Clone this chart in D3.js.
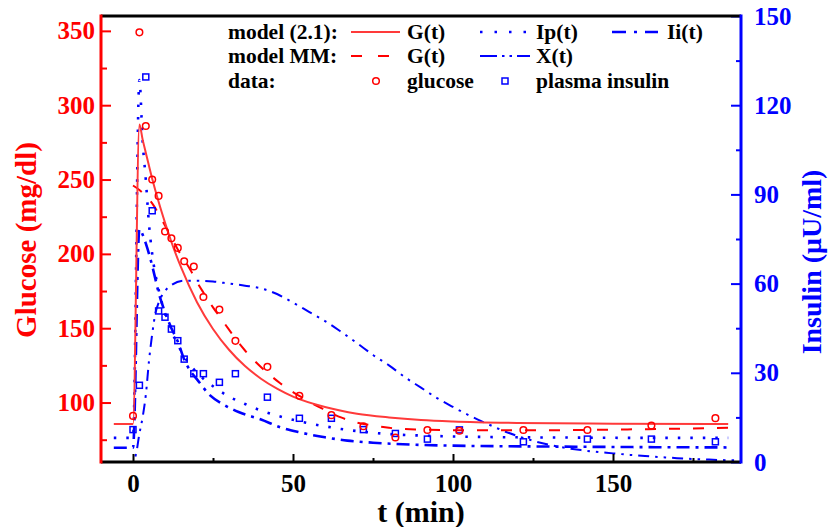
<!DOCTYPE html>
<html><head><meta charset="utf-8">
<script src="https://cdn.jsdelivr.net/npm/d3@7"></script>
<style>
body{margin:0;background:#fff}
svg text{font-family:"Liberation Serif","Times New Roman",serif;font-weight:bold}
</style>
</head><body>
<svg id="c" width="830" height="527"></svg>
<script>
// ---------- data ----------
const tData = [0,2,4,6,8,10,12,14,16,19,22,27,32,42,52,62,72,82,92,102,122,142,162,182];
const glucoseData = [91,349,286,250,239,215,210.5,204,195,191.5,171,162.5,141.5,124,104.5,91.5,84,76.5,81.5,81,81.5,81.5,84.5,89.5];
const insulinData = [10.9,25.8,129.5,84.5,50.8,48.7,44.7,40.8,34.6,29.7,29.7,26.8,29.7,21.8,14.7,14.7,10.9,9.6,7.7,10.8,6.8,7.7,7.7,6.8];

// model (2.1) G(t)
const tG21 = [-6,0,2,3,4,6,8,10,12,15,20,25,30,35,40,45,50,60,70,80,90,100,120,150,186];
const vG21 = [85.5,85.5,287,277,268,250.5,235,221,208,191,167.5,149.5,135.5,124.5,116,109.3,104,97,92.5,90,88.3,87.3,86.3,85.8,85.5];
// model MM G(t)
const tGMM = [0,2,4,6,8,10,12,14,16,18,20,22,25,28,30,32,35,38,42,46,50,52,55,60,65,70,75,80,90,100,120,150,186];
const vGMM = [246,243,239,234,227,219,211,203,196,189,181,174,164,155,149,143,135,128,120,113,107,104.5,100.5,95,90,86.5,84.5,83,81.8,81.4,81.3,81.8,83];
// model (2.1) Ip(t)
const tIp = [-6,0,2,3,4,5,6,8,10,12,14,16,18,20,25,30,35,40,45,50,55,60,65,70,80,90,100,120,140,160,186];
const vIp = [8.1,8.1,128.5,108,95,80,70,58,50,44,39.5,35.5,32.5,30,25.5,22,19.5,17.3,15.6,14.2,13,12,11.1,10.4,9.4,8.9,8.6,8.3,8.2,8.1,8.1];
// model (2.1) Ii(t)
const tIi = [-6,0,2,3,4,5,6,7,8,9,10,12,14,16,18,20,24,28,33,40,46,52,60,67,75,88,100,130,160,186];
const vIi = [4.8,4.8,78.3,76.5,73.5,70,66,61.5,57,53.5,50.3,45,40.5,34.5,30.5,27.8,22.5,19.5,16.8,14.3,11.7,10,8.3,7.2,6.5,5.8,5.5,5.2,5,4.9];
// model MM X(t)
const tX = [-6,0,1,2,3,4,5,6,7,8,10,12,16,20,25,30,35,40,45,50,55,60,65,70,75,80,85,90,95,100,105,110,115,120,130,140,150,160,170,180,190];
const vX = [0,0,3,9.5,15,22.5,34,43,50,53.5,57.5,59.5,61,61,60.7,60,59.3,58.4,56.5,53.6,50.5,47.4,43.8,40,36,32.5,28.5,25,21.5,18.5,15.7,13.2,10.8,8.8,5.8,4,2.9,2,1.3,0.8,0.5];

const ticksT = [0,50,100,150], minorT = [25,75,125,175];
const ticksG = [100,150,200,250,300,350], minorG = [75,125,175,225,275,325];
const ticksI = [0,30,60,90,120,150], minorI = [15,45,75,105,135];

// ---------- drawing ----------
const RED = "#ff0000", BLUE = "#0000ff";
const svg = d3.select("#c");
const L = 101, R = 741, T = 16, B = 462;
const x = d3.scaleLinear().domain([-10,190]).range([L,R]);
const yG = d3.scaleLinear().domain([60,360]).range([B,T]);
const yI = d3.scaleLinear().domain([0,150]).range([B,T]);

svg.append("defs").append("clipPath").attr("id","clip")
  .append("rect").attr("x",L).attr("y",T).attr("width",R-L).attr("height",B-T);

const plot = svg.append("g").attr("clip-path","url(#clip)");
const zip = (ts, vs) => ts.map((t,i)=>[t,vs[i]]);
function drawLine(ts, vs, ys, color, w, dash){
  const line = d3.line().x(d=>x(d[0])).y(d=>ys(d[1])).curve(d3.curveMonotoneX);
  plot.append("path").datum(zip(ts,vs)).attr("d",line)
    .attr("fill","none").attr("stroke",color).attr("stroke-width",w)
    .attr("stroke-dasharray",dash||null).attr("stroke-linecap","butt");
}
const DASH_MM = "11,13", DOT = "2.5,10", DASHDOT = "13,6,3,6", DASHDOTDOT = "11,6,2.5,6,2.5,6";

drawLine(tX, vX, yI, BLUE, 2, DASHDOTDOT);
drawLine(tIi, vIi, yI, BLUE, 2.6, DASHDOT);
drawLine(tIp, vIp, yI, BLUE, 2.6, DOT);
drawLine(tGMM, vGMM, yG, RED, 2, DASH_MM);
drawLine(tG21, vG21, yG, "#ff3a3a", 2, null);

// data markers
plot.selectAll("rect.ins").data(zip(tData, insulinData)).enter().append("rect")
  .attr("x",d=>x(d[0])-3).attr("y",d=>yI(d[1])-3).attr("width",6).attr("height",6)
  .attr("fill","none").attr("stroke",BLUE).attr("stroke-width",1.5);
plot.selectAll("circle.glu").data(zip(tData, glucoseData)).enter().append("circle")
  .attr("cx",d=>x(d[0])).attr("cy",d=>yG(d[1])).attr("r",3.3)
  .attr("fill","none").attr("stroke",RED).attr("stroke-width",1.5);

// axes
const fs = "25px";
function styleAxis(g, color){
  g.select(".domain").remove();
  g.selectAll(".tick line").attr("stroke",color).attr("stroke-width",2);
  g.selectAll(".tick text").attr("fill",color).style("font-size",fs);
}
const gB = svg.append("g").attr("transform",`translate(0,${B})`)
  .call(d3.axisBottom(x).tickValues(ticksT).tickSize(-8).tickPadding(12).tickFormat(d3.format("d")));
styleAxis(gB,"#000");
const gBm = svg.append("g").attr("transform",`translate(0,${B})`)
  .call(d3.axisBottom(x).tickValues(minorT).tickSize(-4).tickFormat(""));
styleAxis(gBm,"#000");

const gL = svg.append("g").attr("transform",`translate(${L},0)`)
  .call(d3.axisLeft(yG).tickValues(ticksG).tickSize(-10).tickPadding(6).tickFormat(d3.format("d")));
styleAxis(gL,RED);
const gLm = svg.append("g").attr("transform",`translate(${L},0)`)
  .call(d3.axisLeft(yG).tickValues(minorG).tickSize(-6).tickFormat(""));
styleAxis(gLm,RED);

const gR = svg.append("g").attr("transform",`translate(${R},0)`)
  .call(d3.axisRight(yI).tickValues(ticksI).tickSize(-10).tickPadding(13).tickFormat(d3.format("d")));
styleAxis(gR,BLUE);
const gRm = svg.append("g").attr("transform",`translate(${R},0)`)
  .call(d3.axisRight(yI).tickValues(minorI).tickSize(-5).tickFormat(""));
styleAxis(gRm,BLUE);

// frame lines
svg.append("line").attr("x1",L).attr("x2",R).attr("y1",T).attr("y2",T).attr("stroke","#000").attr("stroke-width",3);
svg.append("line").attr("x1",L).attr("x2",R).attr("y1",B).attr("y2",B).attr("stroke","#000").attr("stroke-width",3);
svg.append("line").attr("x1",L).attr("x2",L).attr("y1",T-1.5).attr("y2",B+1.5).attr("stroke",RED).attr("stroke-width",3);
svg.append("line").attr("x1",R).attr("x2",R).attr("y1",T-1.5).attr("y2",B+1.5).attr("stroke",BLUE).attr("stroke-width",3);

// axis titles
svg.append("text").attr("transform","translate(36,240) rotate(-90)").attr("text-anchor","middle")
  .attr("fill",RED).style("font-size","29px").text("Glucose (mg/dl)");
svg.append("text").attr("transform","translate(821,262) rotate(-90)").attr("text-anchor","middle")
  .attr("fill",BLUE).style("font-size","28px").text("Insulin (μU/ml)");
svg.append("text").attr("x",421).attr("y",522).attr("text-anchor","middle")
  .attr("fill","#000").style("font-size","30px").text("t (min)");

// legend
const lg = svg.append("g").style("font-size","21.5px");
const rows = [39,63,88];
function ltext(xp, row, s){ lg.append("text").attr("x",xp).attr("y",rows[row]).attr("fill","#000").text(s); }
function lline(x1, x2, row, color, w, dash){
  lg.append("line").attr("x1",x1).attr("x2",x2).attr("y1",rows[row]-7).attr("y2",rows[row]-7)
    .attr("stroke",color).attr("stroke-width",w).attr("stroke-dasharray",dash||null);
}
ltext(228,0,"model (2.1):"); lline(351,400,0,"#ff3a3a",2,null); ltext(407,0,"G(t)");
lline(480,530,0,BLUE,2.6,"2.5,12"); ltext(536,0,"Ip(t)");
lline(612,658,0,BLUE,2.6,"14,8,3,8"); ltext(667,0,"Ii(t)");
ltext(228,1,"model MM:"); lline(351,390,1,RED,2,"11,16"); ltext(407,1,"G(t)");
lline(480,530,1,BLUE,2,"17,5,2.5,5,2.5,5"); ltext(536,1,"X(t)");
ltext(228,2,"data:");
lg.append("circle").attr("cx",376).attr("cy",rows[2]-7).attr("r",3.3).attr("fill","none").attr("stroke",RED).attr("stroke-width",1.5);
ltext(407,2,"glucose");
lg.append("rect").attr("x",502).attr("y",rows[2]-10).attr("width",6).attr("height",6).attr("fill","none").attr("stroke",BLUE).attr("stroke-width",1.5);
ltext(536,2,"plasma insulin");
</script>
</body></html>
